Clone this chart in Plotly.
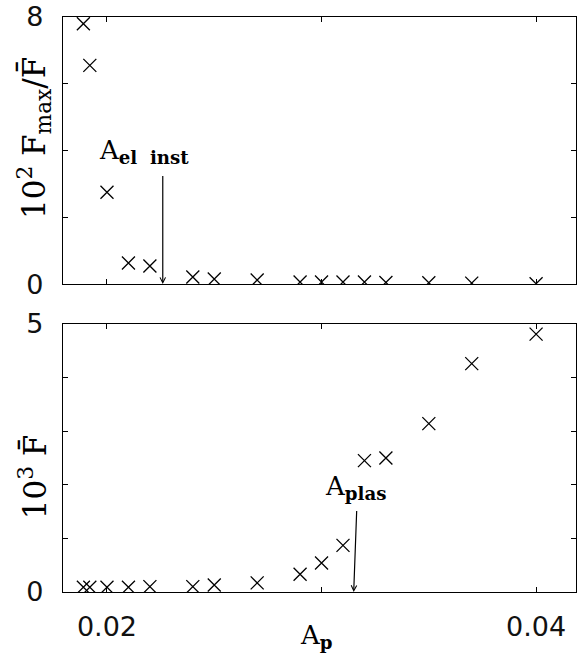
import plotly.graph_objects as go
from plotly.subplots import make_subplots

# Amplitude A_p of each run
ap = [0.0189, 0.0192, 0.020, 0.021, 0.022, 0.024, 0.025, 0.027,
      0.029, 0.030, 0.031, 0.032, 0.033, 0.035, 0.037, 0.040]
# 10^2 F_max / F-bar
fmax_ratio = [7.8, 6.55, 2.75, 0.63, 0.54, 0.21, 0.15, 0.12,
              0.06, 0.06, 0.06, 0.06, 0.05, 0.04, 0.03, 0.01]
# 10^3 F-bar
fbar = [0.09, 0.09, 0.09, 0.09, 0.10, 0.10, 0.13, 0.17,
        0.33, 0.54, 0.87, 2.45, 2.50, 3.14, 4.26, 4.81]

# threshold markers
a_el_inst = 0.0226
a_plas = 0.0315

x_range = [0.01795, 0.04186]
x_ticks = [0.02, 0.03, 0.04]
x_ticktext = ["0.02", "", "0.04"]

SERIF = "DejaVu Serif"
SANS = "DejaVu Sans"

fig = make_subplots(rows=2, cols=1, shared_xaxes=False, vertical_spacing=0.0)

marker = dict(symbol="x-thin", size=13, line=dict(color="black", width=1.3))
fig.add_trace(go.Scatter(x=ap, y=fmax_ratio, mode="markers", marker=marker,
                         cliponaxis=True, showlegend=False), row=1, col=1)
fig.add_trace(go.Scatter(x=ap, y=fbar, mode="markers", marker=marker,
                         cliponaxis=True, showlegend=False), row=2, col=1)

axis_common = dict(showline=True, linecolor="black", linewidth=1.3, mirror="ticks",
                   ticks="inside", ticklen=5, tickwidth=1, tickcolor="black",
                   showgrid=False, zeroline=False)
tick_font = dict(family=SANS, size=27, color="#111")

fig.update_xaxes(range=x_range, tickvals=x_ticks, **axis_common)
fig.update_xaxes(ticktext=["", "", ""], row=1, col=1)
fig.update_xaxes(ticktext=x_ticktext, ticklabelstandoff=10, tickfont=tick_font, row=2, col=1)

fig.update_yaxes(range=[0, 8], tickvals=[0, 2, 4, 6, 8],
                 ticktext=["0", "", "", "", "8"], row=1, col=1, **axis_common)
fig.update_yaxes(range=[0, 5], tickvals=[0, 1, 2, 3, 4, 5],
                 ticktext=["0", "", "", "", "", "5"], row=2, col=1, **axis_common)
fig.update_yaxes(tickfont=tick_font, ticklabelstandoff=13)

fig.update_layout(
    xaxis=dict(domain=[0, 1]), xaxis2=dict(domain=[0, 1]),
    yaxis=dict(domain=[0.5355, 1.0]), yaxis2=dict(domain=[0.0, 0.4662]),
)

label_font = dict(family=SERIF, size=26, color="black")
title_font = dict(family=SERIF, size=31, color="black")

annotations = [
    # threshold arrows
    dict(x=a_el_inst, y=0, xref="x", yref="y", ax=a_el_inst, ay=3.28,
         axref="x", ayref="y", showarrow=True, arrowhead=5, arrowsize=0.9,
         arrowwidth=1.2, arrowcolor="black", text=""),
    dict(x=a_plas, y=0, xref="x2", yref="y2", ax=a_plas + 0.00014, ay=1.54,
         axref="x2", ayref="y2", showarrow=True, arrowhead=5, arrowsize=0.9,
         arrowwidth=1.2, arrowcolor="black", text=""),
    # threshold labels
    dict(x=0.01955, y=3.98, xref="x", yref="y", xanchor="left", yanchor="middle",
         showarrow=False, font=label_font,
         text="A<sub><b>el\u00a0\u00a0inst</b></sub>"),
    dict(x=0.03005, y=1.95, xref="x2", yref="y2", xanchor="left", yanchor="middle",
         showarrow=False, font=label_font,
         text="A<sub><b>plas</b></sub>"),
    # axis titles
    dict(x=-0.056, y=0.79, xref="paper", yref="paper", xanchor="center", yanchor="middle",
         textangle=-90, showarrow=False, font=title_font,
         text="10<sup>2</sup>\u00a0F<sub>max</sub>/F\u0304"),
    dict(x=-0.058, y=0.20, xref="paper", yref="paper", xanchor="center", yanchor="middle",
         textangle=-90, showarrow=False, font=title_font,
         text="10<sup>3</sup>\u00a0F\u0304"),
    dict(x=0.495, y=-0.045, xref="paper", yref="paper", xanchor="center", yanchor="top",
         showarrow=False, font=label_font,
         text="A<sub><b>p</b></sub>"),
]

fig.update_layout(
    width=578, height=653,
    margin=dict(l=63, r=1, t=15, b=61),
    paper_bgcolor="white", plot_bgcolor="white",
    annotations=annotations,
    showlegend=False,
)

fig.write_html("out.html")
